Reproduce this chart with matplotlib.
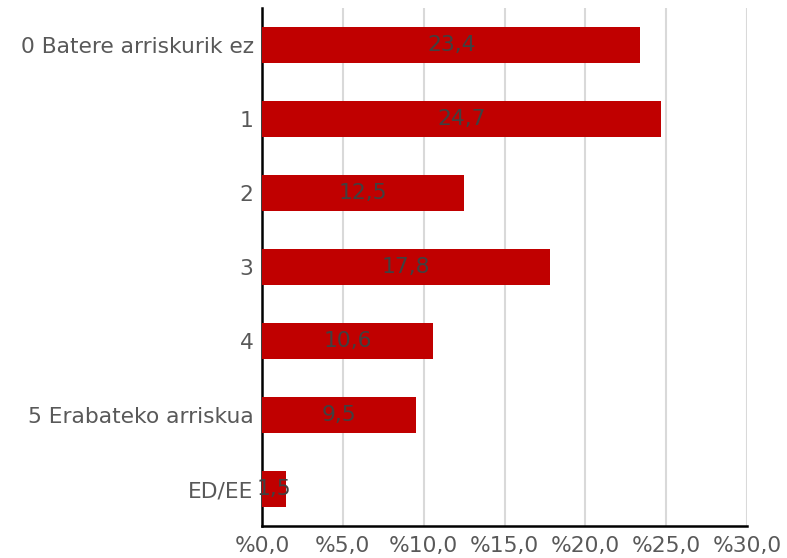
import numpy as np
import matplotlib
matplotlib.use('Agg')
from matplotlib import pyplot as plt

categories = ['0 Batere arriskurik ez', '1', '2', '3', '4', '5 Erabateko arriskua', 'ED/EE']
values = [23.4, 24.7, 12.5, 17.8, 10.6, 9.5, 1.5]
xticks = [0, 5, 10, 15, 20, 25, 30]

fs = 15.7

fig = plt.figure(figsize=(7.87, 5.58), dpi=100)
ax = fig.add_axes([262/787, 1 - 526/558, (747 - 262)/787, (526 - 8)/558])

y = np.arange(len(categories))
ax.barh(y, values, height=0.49, color='#c00000', zorder=3)

# value labels in the middle of each bar
for yi, v in zip(y, values):
    ax.text(v / 2, yi, ('%.1f' % v).replace('.', ','), ha='center', va='center',
            fontsize=fs, color='#404040', zorder=4)

ax.set_xlim(0, 30)
ax.set_ylim(len(categories) - 0.5, -0.5)
ax.set_yticks(y)
ax.set_yticklabels(categories)
ax.set_xticks(xticks)
ax.set_xticklabels(['%' + ('%.1f' % t).replace('.', ',') for t in xticks])
ax.tick_params(axis='both', length=0, labelsize=fs, labelcolor='#595959')
ax.tick_params(axis='y', pad=6)
ax.tick_params(axis='x', pad=7)

ax.grid(axis='x', color='#d9d9d9', linewidth=1.5, zorder=0)
for s in ['top', 'right']:
    ax.spines[s].set_visible(False)
ax.spines['left'].set_linewidth(1.8)
ax.spines['bottom'].set_linewidth(1.8)
ax.spines['left'].set_color('black')
ax.spines['bottom'].set_color('black')

fig.savefig('out.png', dpi=100)
